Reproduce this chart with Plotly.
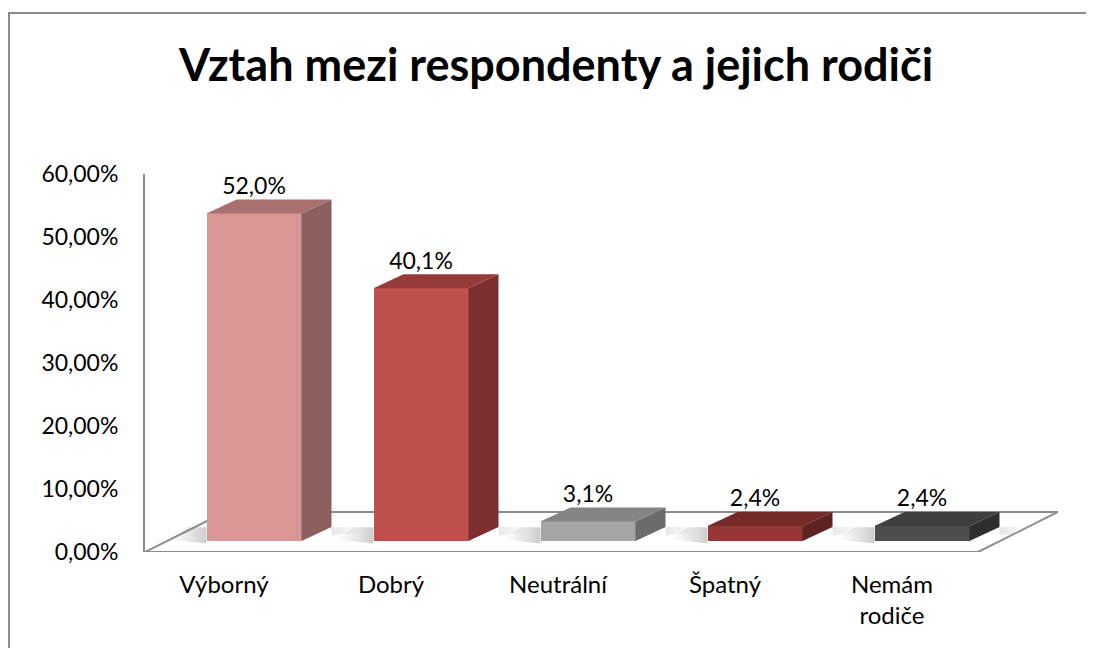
import plotly.graph_objects as go

# ---- data ----
categories = ["Výborný", "Dobrý", "Neutrální", "Špatný", "Nemám<br>rodiče"]
values = [0.520, 0.401, 0.031, 0.024, 0.024]
front_colors = ["#D99694", "#C0504D", "#A5A5A5", "#953735", "#4D4D4D"]
side_colors = ["#8C5F5E", "#7C2F2E", "#6B6B6B", "#5E2221", "#2E2E2E"]
top_colors = ["#A8716F", "#963B39", "#848484", "#742A29", "#3E3E3E"]
y_ticks = [0, 0.1, 0.2, 0.3, 0.4, 0.5, 0.6]

# ---- layout geometry (page pixels; page has an 8px body margin) ----
OFF = 8
W, H = 1094, 648
pl, pr, pt, pb = 145, 1058, 174, 552          # target plot area on the page
L, T = pl - OFF, pt - OFF
R, B = W - (pr - OFF), H - (pb - OFF)
plot_w = pr - pl
plot_h = pb - pt

unit_x = 167.0                      # px per category
y_max = 0.6
unit_y = plot_h / y_max             # px per 1.0
x_min = -(224 - pl) / unit_x
x_max = x_min + plot_w / unit_x


def paper_x(page_x):
    return (page_x - pl) / plot_w


def paper_y(page_y):
    return (pb - page_y) / plot_h


shift = 30 / unit_x
bar_w = 95 / unit_x
ddx = 30 / unit_x
ddy = 14 / unit_y
base = 11 / unit_y
floor_dx = 80 / unit_x
floor_dy = 40 / unit_y
floor_front_right = x_max - floor_dx

idx = list(range(len(categories)))
xc = [i + shift for i in idx]

fig = go.Figure()

# soft shadows on the floor
for i, x in enumerate(xc):
    x0 = x - bar_w / 2
    x1 = x + bar_w / 2
    fig.add_trace(go.Scatter(
        x=[x0 - 0.22, x0, x0, x0 - 0.12, x0 - 0.22],
        y=[base + 0.002, base - 0.004, base + 0.022, base + 0.022, base + 0.002],
        fill="toself", mode="none", hoverinfo="skip", showlegend=False,
        fillgradient=dict(type="horizontal",
                          colorscale=[[0, "rgba(140,140,140,0)"], [1, "rgba(110,110,110,0.35)"]]),
    ))
    fig.add_trace(go.Scatter(
        x=[x1 + ddx, x1 + ddx + 0.18, x1 + ddx + 0.18, x1 + ddx, x1 + ddx],
        y=[base + ddy * 0.4, base + ddy * 0.6, base + ddy, base + ddy, base + ddy * 0.4],
        fill="toself", mode="none", hoverinfo="skip", showlegend=False,
        fillgradient=dict(type="horizontal",
                          colorscale=[[0, "rgba(160,160,160,0.25)"], [1, "rgba(160,160,160,0)"]]),
    ))

# front faces
fig.add_trace(go.Bar(
    x=xc, y=values, base=base, width=bar_w,
    marker=dict(color=front_colors, line=dict(width=0)),
    hoverinfo="skip", showlegend=False,
))

# side and top faces
for i, (x, v) in enumerate(zip(xc, values)):
    x0 = x - bar_w / 2
    x1 = x + bar_w / 2
    top = base + v
    fig.add_trace(go.Scatter(
        x=[x1, x1 + ddx, x1 + ddx, x1, x1],
        y=[base, base + ddy, top + ddy, top, base],
        fill="toself", mode="lines", line=dict(width=0), fillcolor=side_colors[i],
        hoverinfo="skip", showlegend=False,
    ))
    fig.add_trace(go.Scatter(
        x=[x0, x1, x1 + ddx, x0 + ddx, x0],
        y=[top, top, top + ddy, top + ddy, top],
        fill="toself", mode="lines", line=dict(width=0), fillcolor=top_colors[i],
        hoverinfo="skip", showlegend=False,
    ))

# value labels
labels = [f"{v * 100:.1f}%".replace(".", ",") for v in values]
fig.add_trace(go.Scatter(
    x=xc, y=[base + v + ddy for v in values], mode="text", text=labels,
    textposition="top center", textfont=dict(family="Lato", size=23, color="#000000"),
    hoverinfo="skip", showlegend=False, cliponaxis=False,
))

line_col = "#8C8C8C"
shapes = [
    # floor
    dict(type="line", xref="x", yref="y", x0=x_min, y0=0, x1=floor_front_right, y1=0,
         line=dict(color=line_col, width=2), layer="below"),
    dict(type="line", xref="x", yref="y", x0=x_min, y0=0, x1=x_min + floor_dx, y1=floor_dy,
         line=dict(color=line_col, width=2), layer="below"),
    dict(type="line", xref="x", yref="y", x0=x_min + floor_dx, y0=floor_dy, x1=x_max, y1=floor_dy,
         line=dict(color=line_col, width=2), layer="below"),
    dict(type="line", xref="x", yref="y", x0=floor_front_right, y0=0, x1=x_max, y1=floor_dy,
         line=dict(color=line_col, width=2), layer="below"),
    # chart border
    dict(type="rect", xref="paper", yref="paper",
         x0=paper_x(OFF + 1), x1=paper_x(W + 10),
         y0=paper_y(H + 10), y1=paper_y(13),
         line=dict(color="#8C8C8C", width=2), fillcolor="rgba(0,0,0,0)"),
]

fig.update_layout(
    width=W, height=H,
    margin=dict(l=L, r=R, t=T, b=B),
    paper_bgcolor="white", plot_bgcolor="white",
    separators=", ",
    font=dict(family="Lato", size=23, color="#000000"),
    title=dict(text="<b>Vztah mezi respondenty a jejich rodiči</b>",
               x=(556 - OFF) / W, xanchor="center", y=1 - (65 - OFF) / H, yanchor="middle",
               font=dict(family="Lato", size=45, color="#000000")),
    shapes=shapes,
    bargap=0,
    showlegend=False,
)
fig.update_xaxes(range=[x_min, x_max], tickvals=idx, ticktext=categories,
                 showgrid=False, zeroline=False, showline=False, ticks="",
                 ticklabelstandoff=16, tickfont=dict(size=24), fixedrange=True)
fig.update_yaxes(range=[0, y_max], tickvals=y_ticks, tickformat=".2%",
                 showgrid=False, zeroline=False, showline=True, linecolor=line_col,
                 linewidth=2, ticks="", ticklabelstandoff=20, fixedrange=True)

fig.write_html("out.html")
